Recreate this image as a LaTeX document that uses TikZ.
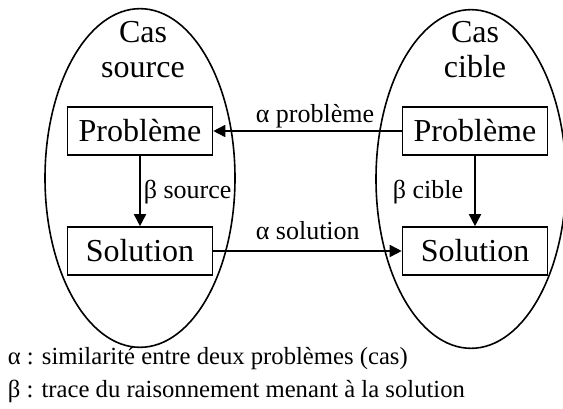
\documentclass[tikz,border=0pt]{standalone}
\usepackage{fontspec}
\setmainfont{Liberation Serif}
\usetikzlibrary{arrows.meta,shapes.geometric}

\tikzset{every picture/.style={line width=1.2pt}}
\tikzset{
  casebox/.style={draw, minimum width=108.75pt, minimum height=36pt, inner sep=0.75pt, font=\fontsize{24}{26}\selectfont},
  caseoval/.style={draw, ellipse, minimum width=142.5pt, minimum height=254pt, inner sep=0pt},
  casetitle/.style={align=center, inner sep=0.75pt, font=\fontsize{24}{26.5}\selectfont},
  arrowlabel/.style={inner sep=0.75pt, font=\fontsize{19.5}{22}\selectfont},
  legendtext/.style={anchor=base west, inner sep=0.75pt, font=\fontsize{18.5}{21}\selectfont},
  flow/.style={-{Triangle[length=9pt,width=9pt]}}
}

\begin{document}
\begin{tikzpicture}[x=0.75pt,y=0.75pt,yscale=-1,xscale=1]
\useasboundingbox (0,0) rectangle (563,409); %set diagram size 563 x 409

%Shape: Ellipse [source case]
\node [caseoval] (srcOval) at (140,178) {};
%Shape: Ellipse [target case]
\node [caseoval] (tgtOval) at (471,179) {};

% Text Node
\node [casetitle, anchor=base] (srcTitle) at (143,78) {Cas\\source};
% Text Node
\node [casetitle, anchor=base] (tgtTitle) at (475,78) {Cas\\cible};

%Shape: Rectangle
\node [casebox] (srcPb) at (140,131) {Problème};
%Shape: Rectangle
\node [casebox] (srcSol) at (140,251) {Solution};
%Shape: Rectangle
\node [casebox] (tgtPb) at (475,131) {Problème};
%Shape: Rectangle
\node [casebox] (tgtSol) at (475,251) {Solution};

%Straight Lines [alpha]
\draw [flow] (tgtPb) -- (srcPb);
\draw [flow] (srcSol) -- (tgtSol);
%Straight Lines [beta]
\draw [flow] (srcPb) -- (srcSol);
\draw [flow] (tgtPb) -- (tgtSol);

% Text Node
\node [arrowlabel, anchor=base west] (alphaPb) at (254,123) {α problème};
% Text Node
\node [arrowlabel, anchor=base west] (alphaSol) at (254,240) {α solution};
% Text Node
\node [arrowlabel, anchor=base west] (betaSrc) at (142,199) {β source};
% Text Node
\node [arrowlabel, anchor=base east] (betaTgt) at (465,199) {β cible};

% Text Node
\node [legendtext] (legAlpha) at (6,364) {α : similarité entre deux problèmes (cas)};
% Text Node
\node [legendtext] (legBeta) at (6,397) {β : trace du raisonnement menant à la solution};

\end{tikzpicture}
\end{document}
